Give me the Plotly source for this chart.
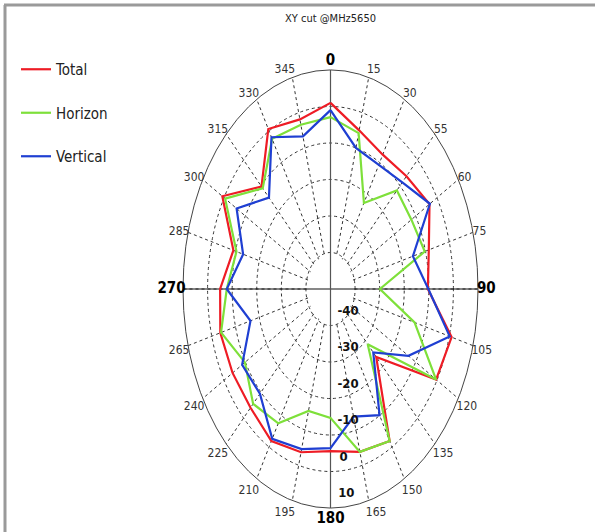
import plotly.graph_objects as go

# ---------------- data ----------------
angles = [0, 15, 30, 45, 60, 75, 90, 105, 120, 135, 150, 165,
          180, 195, 210, 225, 240, 255, 270, 285, 300, 315, 330, 345]
total = [1.0, -5.0, -7.5, -6.3, -3.5, -8.6, -10.4, 1.0, -0.4, -23.7, -1.9, -3.8,
         -5.6, -3.7, -1.9, -4.0, -4.0, -3.6, -5.1, -9.1, 0.8, -10.3, 0.6, -1.9]
horizon = [-2.9, -5.8, -22.8, -11.8, -12.0, -10.3, -29.9, -14.6, -0.4, -28.6, -1.9, -3.8,
           -14.7, -15.4, -7.5, -5.5, -9.8, -3.9, -7.8, -10.4, -0.5, -11.0, -2.5, -3.4]
vertical = [-1.0, -10.0, -10.7, -8.7, -3.3, -15.3, -10.2, 0.2, -13.4, -25.4, -10.1, -13.8,
            -6.4, -4.6, -2.6, -9.4, -8.5, -16.3, -7.8, -13.2, -5.9, -14.6, -2.0, -6.7]
angle_labels = ["0", "15", "30", "55", "60", "75", "90", "105", "120", "135", "150", "165",
                "180", "195", "210", "225", "240", "265", "270", "285", "300", "315", "330", "345"]
radial_ticks = [-40, -30, -20, -10, 0, 10]
r_min, r_max = -50, 10
series_names = ["Total", "Horizon", "Vertical"]
series_colors = ["#ee1c25", "#7ee03a", "#1f3fd2"]

W, H = 595, 532
CX, CY, RV, RH = 330.5, 289.0, 219.0, 147.5   # centre and radii in pixels
SQ = RH / RV

FONT = "Liberation Sans Narrow, DejaVu Sans Condensed, Arial Narrow, Liberation Sans, sans-serif"

fig = go.Figure()

# blank the spoke grid inside the innermost ring
inner = radial_ticks[0] - 0.6
fig.add_trace(go.Scatterpolar(r=[inner] * (len(angles) + 1), theta=angles + angles[:1],
                              mode="lines", fill="toself", fillcolor="white",
                              line=dict(color="rgba(0,0,0,0)", width=0),
                              showlegend=False, hoverinfo="skip"))

# axis cross lines (0-180 and 90-270)
fig.add_trace(go.Scatterpolar(r=[r_max, r_min, r_max], theta=[90, 0, 270], mode="lines",
                              line=dict(color="#111111", width=1.2), showlegend=False,
                              hoverinfo="skip"))
fig.add_trace(go.Scatterpolar(r=[r_max, r_min, r_max], theta=[0, 0, 180], mode="lines",
                              line=dict(color="#555555", width=1.2), showlegend=False,
                              hoverinfo="skip"))

for i, (name, vals, col) in enumerate(zip(series_names, [total, horizon, vertical], series_colors)):
    fig.add_trace(go.Scatterpolar(
        r=vals + vals[:1], theta=angles + angles[:1], mode="lines", name=name,
        legendgroup=name, line=dict(color=col, width=2.2)))

ticktext = []
for a, lab in zip(angles, angle_labels):
    if a % 90 == 0:
        ticktext.append('<span style="font-size:15px;color:#000"><b>%s</b></span>' % lab)
    else:
        ticktext.append(lab)

fig.update_layout(
    width=W, height=H,
    margin=dict(l=0, r=0, t=0, b=0),
    paper_bgcolor="white",
    font=dict(family=FONT, size=12, color="#333"),
    title=dict(text="XY cut @MHz5650", x=CX / W, xanchor="center", y=1 - 18 / H,
               yanchor="middle", font=dict(size=11, color="#222", family=FONT)),
    showlegend=True,
    legend=dict(x=16 / W, xanchor="left", y=1 - 53 / H, yanchor="top",
                font=dict(size=15, color="#222", family=FONT),
                tracegroupgap=21, bgcolor="rgba(0,0,0,0)"),
    polar=dict(
        domain=dict(x=[(CX - RV) / W, (CX + RV) / W],
                    y=[(H - CY - RV) / H, (H - CY + RV) / H]),
        bgcolor="white",
        angularaxis=dict(rotation=90, direction="clockwise",
                         tickmode="array", tickvals=angles, ticktext=ticktext,
                         ticks="", showline=True, linecolor="#444", linewidth=1,
                         showgrid=True, gridcolor="#333", griddash="3px,3px", gridwidth=1,
                         tickfont=dict(size=12, color="#333", family=FONT)),
        radialaxis=dict(range=[r_min, r_max], tickmode="array", tickvals=radial_ticks,
                        angle=-90, side="counterclockwise", tickangle=-90,
                        ticks="", showline=False, showgrid=True,
                        gridcolor="#333", griddash="3px,3px", gridwidth=1,
                        tickfont=dict(size=13, color="#111", family=FONT),
                        ticktext=["<b>%d</b>" % v for v in radial_ticks]),
    ),
    shapes=[
        dict(type="line", xref="paper", yref="paper", x0=4 / W, x1=1, y0=1 - 5 / H, y1=1 - 5 / H,
             line=dict(color="#9a9a9a", width=3)),
        dict(type="line", xref="paper", yref="paper", x0=5 / W, x1=5 / W, y0=0, y1=1 - 5 / H,
             line=dict(color="#9a9a9a", width=3)),
    ],
)

js = """
(function(){
  document.body.style.margin = '0';
  var gd = document.getElementById('{plot_id}');
  var s = SQ, cx = CX, cy = CY;
  var pol = gd.querySelector('g.polar');
  if(!pol) return;
  Array.prototype.slice.call(pol.children).forEach(function(k){
    var t = k.getAttribute('transform') || '';
    var pre = 'translate(' + cx + ',' + cy + ') scale(' + s + ',1) translate(' + (-cx) + ',' + (-cy) + ') ';
    if (k.classList.contains('radial-axis')) { pre = 'translate(RDX,RDY) ' + pre; }
    k.setAttribute('transform', pre + t);
  });
  pol.querySelectorAll('path').forEach(function(p){ p.style.vectorEffect = 'non-scaling-stroke'; });
  pol.querySelectorAll('text').forEach(function(tx){
    var b = tx.getBBox();
    var bx = b.x + b.width/2, by = b.y + b.height/2;
    var t = tx.getAttribute('transform') || '';
    tx.setAttribute('transform', t + ' translate(' + bx + ',' + by + ') scale(' + (1/s) + ',1) translate(' + (-bx) + ',' + (-by) + ')');
  });
})();
"""
js = (js.replace("SQ", repr(SQ)).replace("CX", repr(CX)).replace("CY", repr(CY))
        .replace("RDX", "10").replace("RDY", "-15"))

fig.write_html("out.html", post_script=js, config={"displayModeBar": False})
